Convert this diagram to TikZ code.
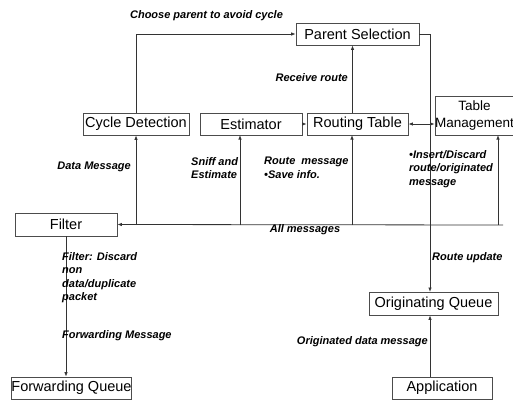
\documentclass[tikz,border=0pt]{standalone}
\usepackage{fontspec}
\setmainfont{Liberation Sans}
\usetikzlibrary{calc,arrows.meta}

\tikzset{
	box/.style={draw=black!70, line width=0.8pt, fill=white, inner sep=0pt,
		font=\fontsize{14.5}{16}\selectfont, text=black},
	lbl/.style={inner sep=0pt, align=left, font=\fontsize{11}{13.5}\selectfont\bfseries\itshape},
	con/.style={draw=black!80, line width=0.8pt, -{Latex[length=4.5pt,width=3.5pt]}}
}

\begin{document}
\begin{tikzpicture}[x=1pt,y=-1pt]
			
			%--- Rahmen (Pixel der Vorlage) ---
			\useasboundingbox (0,0) rectangle (513,401);
			\def\busy{225} % Hoehe der Sammelleitung
			
			%--- Kaesten ---
			\node[box, minimum width=123pt, minimum height=22pt] (ps)   at (357.5,34)  {Parent Selection};
			\node[box, minimum width=106pt, minimum height=22pt] (cd)   at (136,124)   {Cycle Detection};
			\node[box, minimum width=102pt, minimum height=22pt] (est)  at (251,124)   {Estimator};
			\node[box, minimum width=101pt, minimum height=22pt] (rt)   at (357.5,124) {Routing Table};
			\node[box, minimum width=76pt, minimum height=39pt, align=center,
				font=\fontsize{13.5}{16.5}\selectfont] (tm) at (474.5,115.5) {Table\\Management};
			\node[box, minimum width=102pt, minimum height=23pt] (filt) at (66,224.5)  {Filter};
			\node[box, minimum width=113pt, minimum height=22pt] (fq)   at (71.5,388)  {Forwarding Queue};
			\node[box, minimum width=129pt, minimum height=23pt] (oq)   at (433.5,303.5) {Originating Queue};
			\node[box, minimum width=100pt, minimum height=22pt] (app)  at (442,388)   {Application};
			
			%--- Hilfspunkte ---
			\coordinate (busR) at (503,\busy);
			\coordinate (upd)  at (430,292);
			
			%--- Verbindungen oben ---
			\draw[con] (cd.north) |- (ps.west);
			\draw[con] (ps.east) -| (upd);
			\draw[con] ([xshift=-5pt]rt.north) -- ([xshift=-5pt]ps.south);
			\draw[con] (est.east) -- (rt.west);
			\draw[con, {Latex[length=4.5pt,width=3.5pt]}-{Latex[length=4.5pt,width=3.5pt]}] (rt.east) -- (rt.east -| tm.west);
			
			%--- Sammelleitung ---
			\draw[con] (busR) -- (filt.east);
			\draw[con] (cd.south |- busR) -- (cd.south);
			\draw[con] (240,\busy) -- (240,135);
			\draw[con] (352,\busy) -- (352,135);
			\draw[con] (498,\busy) -- (498,135);
			
			%--- Verbindungen unten ---
			\draw[con] (filt.south) -- (filt.south |- fq.north);
			\draw[con] (app.north -| upd) -- (oq.south -| upd);
			
			%--- Beschriftungen ---
			\node[lbl]               (l1)  at (206.5,16) {Choose parent to avoid cycle};
			\node[lbl, anchor=east]  (l2)  at (348,78)   {Receive route};
			\node[lbl, anchor=east]  (l3)  at (131,167)  {Data Message};
			\node[lbl, anchor=west]  (l4)  at (191,168)  {Sniff and\\Estimate};
			\node[lbl, anchor=west]  (l5)  at (264,168)  {Route\ \ message\\\textbullet Save info.};
			\node[lbl, anchor=west]  (l6)  at (409,169)  {\textbullet Insert/Discard\\route/originated\\message};
			\node[lbl]               (l7)  at (305,230)  {All messages};
			\node[lbl, anchor=west]  (l8)  at (432,258)  {Route update};
			\node[lbl, anchor=west]  (l9)  at (62,277.5) {Filter: Discard\\non\\data/duplicate\\packet};
			\node[lbl, anchor=west]  (l10) at (62,336)   {Forwarding Message};
			\node[lbl, anchor=east]  (l11) at (428,342)  {Originated data message};
			
		\end{tikzpicture}
\end{document}
